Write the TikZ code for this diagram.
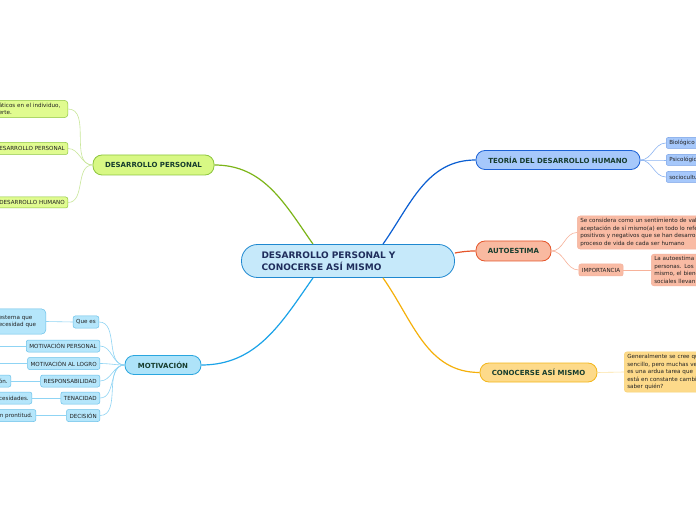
\documentclass[tikz,border=0pt]{standalone}
\usepackage{fontspec}
\setmainfont{DejaVu Sans}
\definecolor{raizfill}{HTML}{C6E9FA}
\definecolor{raizdraw}{HTML}{1E88D0}
\definecolor{raiztext}{HTML}{1F2D5C}
\definecolor{titulo}{HTML}{173D2E}
\definecolor{texto}{HTML}{222222}
\definecolor{dpfill}{HTML}{D8F884}
\definecolor{dpdraw}{HTML}{8EC63F}
\definecolor{dphoja}{HTML}{E0FB90}
\definecolor{dpline}{HTML}{7CB518}
\definecolor{dpbrote}{HTML}{C9E79A}
\definecolor{mofill}{HTML}{AEE3F9}
\definecolor{modraw}{HTML}{2AA6DF}
\definecolor{mohoja}{HTML}{B5E6FB}
\definecolor{moline}{HTML}{1BA3E8}
\definecolor{mobrote}{HTML}{8FD4F4}
\definecolor{tefill}{HTML}{A6C8FB}
\definecolor{tedraw}{HTML}{1D62D6}
\definecolor{teline}{HTML}{0A5ED2}
\definecolor{tebrote}{HTML}{8DB5F2}
\definecolor{aufill}{HTML}{F9B9A0}
\definecolor{audraw}{HTML}{E5552A}
\definecolor{auhoja}{HTML}{F9BBA4}
\definecolor{aubrote}{HTML}{F7B29A}
\definecolor{cofill}{HTML}{FDDA8A}
\definecolor{codraw}{HTML}{F3B61B}
\definecolor{coline}{HTML}{F5B00A}
\definecolor{cobrote}{HTML}{FDE3A2}

\begin{document}
\begin{tikzpicture}[x=1pt,y=1pt,
	rama/.style={draw, line width=0.8pt, rounded corners=9pt, minimum height=20pt, inner xsep=6pt,
		font=\fontsize{7}{8}\selectfont\bfseries, text=titulo},
	hoja/.style={draw, line width=0.5pt, rounded corners=2pt, minimum height=12pt, inner xsep=3pt, inner ysep=1.5pt,
		font=\fontsize{5.6}{6.5}\selectfont, text=texto},
	nota/.style={hoja, rounded corners=3pt, align=left, inner ysep=2.5pt, font=\fontsize{5.6}{7.5}\selectfont},
	tronco/.style={line width=1.2pt},
	brote/.style={line width=0.6pt}]
	\useasboundingbox (0,0) rectangle (696,520);
	\clip (0,0) rectangle (696,520);
	\fill[white] (0,0) rectangle (696,520);

	% centro
	\node[draw=raizdraw, fill=raizfill, line width=0.8pt, rounded corners=16pt, minimum width=213pt, minimum height=33pt,
		inner xsep=20pt, text width=173pt, align=left, text=raiztext, font=\fontsize{9}{11.5}\selectfont\bfseries]
		(raiz) at (348,259) {DESARROLLO PERSONAL Y\\CONOCERSE ASÍ MISMO};
	\coordinate (rDP) at ([xshift=-35pt]raiz.north);
	\coordinate (rMO) at ([xshift=-35pt]raiz.south);
	\coordinate (rTE) at ([xshift=35pt]raiz.north);
	\coordinate (rCO) at ([xshift=35pt]raiz.south);
	\coordinate (rAU) at ([yshift=8pt]raiz.east);

	% ramas principales
	\node[rama, draw=dpdraw, fill=dpfill, minimum width=121pt] (despers) at (153.5,355) {DESARROLLO PERSONAL};
	\node[rama, draw=modraw, fill=mofill, minimum width=76pt, minimum height=19pt] (motiv) at (163,155) {MOTIVACIÓN};
	\node[rama, draw=tedraw, fill=tefill, minimum width=164pt, minimum height=19pt] (teoria) at (558,360) {TEORÍA DEL DESARROLLO HUMANO};
	\node[rama, draw=audraw, fill=aufill, minimum width=75pt] (autoest) at (513.5,269) {AUTOESTIMA};
	\node[rama, draw=codraw, fill=cofill, minimum width=117pt, minimum height=19pt] (conoc) at (538.5,147.5) {CONOCERSE ASÍ MISMO};

	\draw[tronco, dpline] (rDP) to[out=125,in=0] (despers.east);
	\draw[tronco, moline] (rMO) to[out=-125,in=0] (motiv.east);
	\draw[tronco, teline] (rTE) to[out=55,in=180] (teoria.west);
	\draw[tronco, audraw] (rAU) to[out=10,in=180] (autoest.west);
	\draw[tronco, coline] (rCO) to[out=-55,in=180] (conoc.west);

	% desarrollo personal
	\node[nota, draw=dpdraw, fill=dphoja, anchor=east, text width=66pt] (dp1) at (68,411) {áticos en el individuo,\\erte.};
	\node[hoja, draw=dpdraw, fill=dphoja, anchor=east, text width=90pt, align=right] (dp2) at (68,371.5) {DESARROLLO PERSONAL};
	\node[hoja, draw=dpdraw, fill=dphoja, anchor=east, text width=90pt, align=right, minimum height=11pt] (dp3) at (68,317.5) {DESARROLLO HUMANO};
	\foreach \h in {dp1,dp2,dp3}
		\draw[brote, dpbrote] (despers.west) to[out=180,in=0] (\h.east);

	% motivacion
	\node[hoja, draw=modraw!70, fill=mohoja] (queEs) at (86,198) {Que es};
	\node[nota, draw=modraw!70, fill=mohoja, anchor=east, text width=44pt, minimum height=25pt, rounded corners=4pt] (queEsT) at (46,198.5) {esterna que\\ecesidad que};
	\node[hoja, draw=modraw!70, fill=mohoja, anchor=east] (motPers) at (100,174) {MOTIVACIÓN PERSONAL};
	\node[hoja, draw=modraw!70, fill=mohoja, anchor=east] (motLogro) at (100,156.5) {MOTIVACIÓN AL LOGRO};
	\node[hoja, draw=modraw!70, fill=mohoja, anchor=east] (respon) at (100,139) {RESPONSABILIDAD};
	\node[hoja, draw=modraw!70, fill=mohoja, anchor=east] (tenac) at (100,122) {TENACIDAD};
	\node[hoja, draw=modraw!70, fill=mohoja, anchor=east] (decis) at (100,104.5) {DECISIÓN};
	\node[hoja, draw=modraw!70, fill=mohoja, anchor=east, text width=40pt, align=right] (responT) at (11,139) {ón.};
	\node[hoja, draw=modraw!70, fill=mohoja, anchor=east, text width=40pt, align=right] (tenacT) at (32,122) {cesidades.};
	\node[hoja, draw=modraw!70, fill=mohoja, anchor=east, text width=40pt, align=right] (decisT) at (36,104.5) {n prontitud.};
	\coordinate (motPersT) at (-5,174);
	\coordinate (motLogroT) at (-5,156.5);
	\foreach \h in {queEs,motPers,motLogro,respon,tenac,decis}
		\draw[brote, mobrote] (motiv.west) to[out=180,in=0] (\h.east);
	\foreach \h in {queEs,motPers,motLogro,respon,tenac,decis}
		\draw[brote, mobrote] (\h.west) -- (\h T.east);

	% teoria del desarrollo humano
	\node[hoja, draw=tedraw!60, fill=tefill, anchor=west, text width=50pt, minimum height=11pt] (biolog) at (666,377) {Biológico};
	\node[hoja, draw=tedraw!60, fill=tefill, anchor=west, text width=50pt, minimum height=11pt] (psicol) at (666,360) {Psicológico};
	\node[hoja, draw=tedraw!60, fill=tefill, anchor=west, text width=50pt, minimum height=11pt] (socio) at (666,343) {sociocultural};
	\foreach \h in {biolog,psicol,socio}
		\draw[brote, tebrote] (teoria.east) to[out=0,in=180] (\h.west);

	% autoestima
	\node[nota, draw=audraw!45, fill=auhoja, anchor=west, text width=150pt] (auDef) at (577,287.5)
		{Se considera como un sentimiento de valoración\\aceptación de sí mismo(a) en todo lo referente\\positivos y negativos que se han desarrollado\\proceso de vida de cada ser humano};
	\node[hoja, draw=audraw!45, fill=auhoja] (import) at (601,250) {IMPORTANCIA};
	\node[nota, draw=audraw!45, fill=auhoja, anchor=west, text width=70pt] (importT) at (651,250)
		{La autoestima es\\personas. Los\\mismo, el bienestar\\sociales llevan};
	\draw[brote, aubrote] (autoest.east) to[out=0,in=180] (auDef.west);
	\draw[brote, aubrote] (autoest.east) to[out=0,in=180] (import.west);
	\draw[brote, aubrote] (import.east) -- (importT.west);

	% conocerse
	\node[nota, draw=codraw!60, fill=cofill, anchor=west, text width=90pt] (conocT) at (624,148)
		{Generalmente se cree que\\sencillo, pero muchas veces\\es una ardua tarea que\\está en constante cambio\\saber quién?};
	\draw[brote, cobrote] (conoc.east) -- (conocT.west);
\end{tikzpicture}
\end{document}
